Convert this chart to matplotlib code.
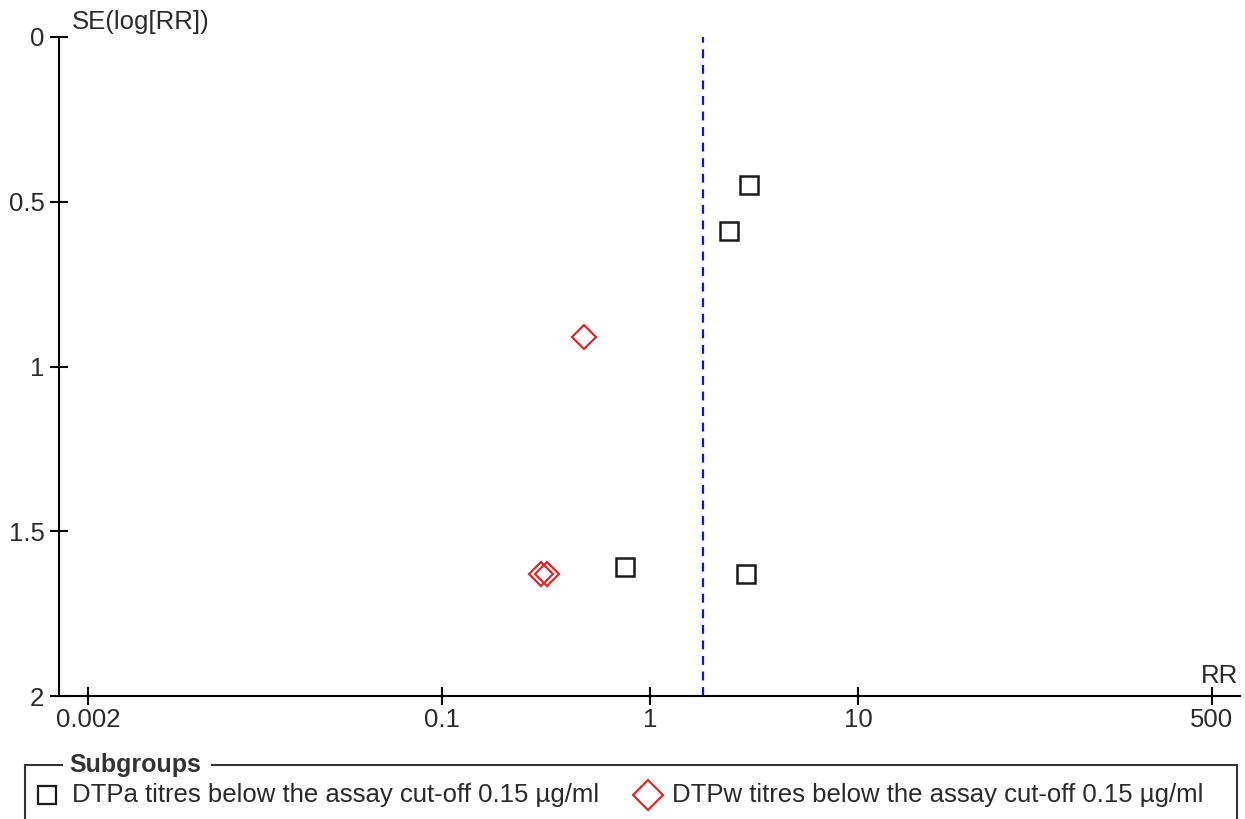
import matplotlib
matplotlib.use("Agg")
import matplotlib.pyplot as plt
from matplotlib.lines import Line2D
import numpy as np

plt.rcParams['font.family'] = ['Liberation Sans', 'DejaVu Sans']

# Data
rr_dtpa = [3.0, 2.4, 0.76, 2.88]
se_dtpa = [0.45, 0.59, 1.61, 1.63]
rr_dtpw = [0.48, 0.30, 0.32]
se_dtpw = [0.91, 1.63, 1.63]
pooled_rr = 1.8
x_ticks = [0.002, 0.1, 1, 10, 500]
x_tick_labels = ["0.002", "0.1", "1", "10", "500"]
y_ticks = [0, 0.5, 1, 1.5, 2]
y_tick_labels = ["0", "0.5", "1", "1.5", "2"]
label_dtpa = "DTPa titres below the assay cut-off 0.15 µg/ml"
label_dtpw = "DTPw titres below the assay cut-off 0.15 µg/ml"

W, H = 1245, 819
fig = plt.figure(figsize=(W / 100, H / 100), dpi=100)
ax = fig.add_axes([59 / W, 1 - 696 / H, (1240 - 59) / W, (696 - 37) / H])

txt_color = '#2a2a2a'
fs = 18.5

ax.set_xscale('log')
ax.set_xlim(10 ** -2.84, 10 ** 2.835)
ax.set_ylim(2, 0)

ax.axvline(pooled_rr, color='#1010e0', lw=1.6, ls=(0, (4, 3)), zorder=1)

ax.plot(rr_dtpa, se_dtpa, ls='none', marker='s', ms=12.8, mfc='none',
        mec='#1a1a1a', mew=1.8, zorder=3)
ax.plot(rr_dtpw, se_dtpw, ls='none', marker='D', ms=12.5, mfc='none',
        mec='#e02828', mew=1.6, zorder=3)

for s in ['top', 'right']:
    ax.spines[s].set_visible(False)
for s in ['left', 'bottom']:
    ax.spines[s].set_linewidth(1.5)
    ax.spines[s].set_color('black')

ax.set_xticks(x_ticks)
ax.set_xticklabels(x_tick_labels)
ax.xaxis.set_minor_locator(matplotlib.ticker.NullLocator())
ax.set_yticks(y_ticks)
ax.set_yticklabels(y_tick_labels)
ax.tick_params(axis='x', direction='inout', length=13, width=1.5, pad=2,
               labelsize=fs, labelcolor=txt_color)
ax.tick_params(axis='y', direction='inout', length=13, width=1.5, pad=4,
               labelsize=fs, labelcolor=txt_color)

fig.text(72 / W, 1 - 22 / H, "SE(log[RR])", fontsize=fs, color=txt_color,
         ha='left', va='center')
fig.text(1238 / W, 1 - 676 / H, "RR", fontsize=fs, color=txt_color,
         ha='right', va='center')

# Legend box (manual)
ty = 1 - 765 / H
box_l, box_r = 25 / W, 1237 / W
fig.add_artist(Line2D([box_l, 62 / W], [ty, ty], color='#333333', lw=1.5,
                      transform=fig.transFigure))
fig.add_artist(Line2D([212 / W, box_r], [ty, ty], color='#333333', lw=1.5,
                      transform=fig.transFigure))
fig.add_artist(Line2D([box_l, box_l], [ty, -0.01], color='#333333', lw=1.5,
                      transform=fig.transFigure))
fig.add_artist(Line2D([box_r, box_r], [ty, -0.01], color='#333333', lw=1.5,
                      transform=fig.transFigure))
fig.text(69 / W, ty, "Subgroups", fontsize=fs - 0.5, fontweight='bold',
         color='#333333', ha='left', va='center')

ly = 1 - 795 / H
fig.add_artist(Line2D([47 / W], [ly], ls='none', marker='s', ms=13,
                      mfc='none', mec='#1a1a1a', mew=1.6,
                      transform=fig.transFigure))
fig.text(72 / W, ly, label_dtpa, fontsize=fs, color=txt_color,
         ha='left', va='center')
fig.add_artist(Line2D([648 / W], [ly], ls='none', marker='D', ms=15,
                      mfc='none', mec='#e02828', mew=1.6,
                      transform=fig.transFigure))
fig.text(672 / W, ly, label_dtpw, fontsize=fs, color=txt_color,
         ha='left', va='center')

fig.savefig("out.png", dpi=100)
